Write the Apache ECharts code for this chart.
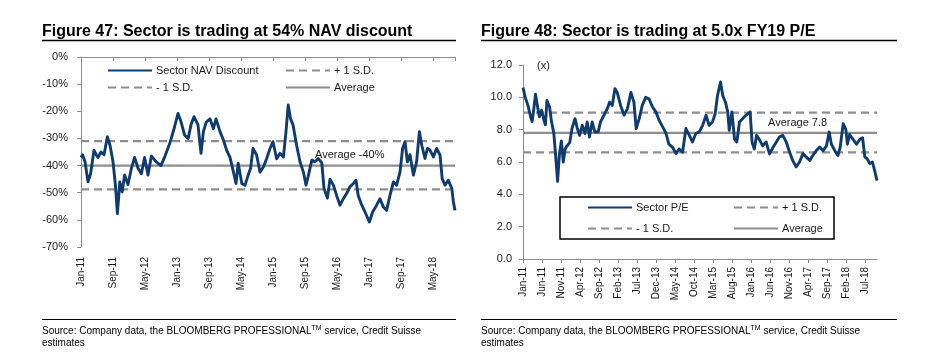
<!DOCTYPE html>
<html><head><meta charset="utf-8">
<script src="https://cdn.jsdelivr.net/npm/echarts@6/dist/echarts.min.js"></script>
<style>html,body{margin:0;padding:0;background:#fff}#c{width:936px;height:354px}</style>
</head><body><div id="c"></div>
<script>
const MONTHS = ['Jan','Feb','Mar','Apr','May','Jun','Jul','Aug','Sep','Oct','Nov','Dec'];

// Figure 47 — time in months since Jan-2011, value in %
const navMonths = [0,0.4,1,1.75,2.4,3.25,3.8,4.25,5,5.75,6.6,7.25,8,8.6,9.1,9.7,10.3,10.9,11.75,12.6,13.4,14.25,15.1,15.9,16.75,17.6,18.8,20,21,22.2,23.4,24.25,25,25.9,26.8,27.5,28.25,29.25,30,30.6,31.3,32.25,33.1,33.75,34.75,35.6,36.4,37.25,38,38.75,39.3,40.2,41,41.8,42.4,43,43.9,44.75,45.6,46.4,47.25,48,48.9,49.75,50.6,51.25,51.8,52.4,53,53.9,54.75,55.6,56.25,56.8,57.7,58.5,59.3,60.2,60.75,61.6,62.25,63.1,63.9,64.75,65.6,66.4,67.25,68.1,68.75,69.3,70.2,71,72.1,72.9,73.9,74.75,75.6,76.4,77.25,78.1,78.9,79.75,80.4,81,81.6,82.25,83.1,83.9,84.6,85.2,86,86.6,87.25,88.1,88.9,89.75,90.3,91,91.8,92.7,93.1,93.5];
const navValues = [-37,-36,-38.6,-46,-43,-34.3,-36,-37,-35,-36,-29.4,-32.5,-38.6,-47,-57.7,-46,-49.7,-43.5,-47,-41,-37,-41,-43,-37,-43.5,-36.5,-38.6,-40,-36.5,-31.8,-25.7,-20.8,-23.8,-28.8,-30,-25,-22,-25,-35.5,-27.5,-24,-22.8,-26.4,-22.8,-27.5,-30.6,-34.3,-37,-41.7,-46.6,-39.1,-46.6,-47.2,-43.5,-41,-33.7,-36.1,-42.4,-40.5,-37.5,-33.7,-31.2,-37.5,-35.5,-36.8,-27.5,-17.7,-22.8,-25,-32.5,-38.6,-42.4,-47.2,-44,-38,-38.6,-37.4,-39,-48.4,-52,-45,-47.2,-51,-54.6,-52.2,-50.3,-47.8,-46.6,-45.4,-51,-54.6,-57.1,-60.8,-57.1,-54.6,-52.2,-55.3,-56.5,-51,-46,-47.2,-42.4,-33.7,-31.2,-38.6,-36,-43.5,-38.6,-27.5,-32.5,-37.4,-33.7,-34.3,-36.8,-33.7,-36.1,-44.8,-47.2,-45.4,-48.4,-53.4,-56.5];
const navPlusSD = -31;
const navAverage = -40;
const navMinusSD = -48.8;
const navYMin = -70, navYMax = 0, navYStep = 10;
const navXStep = 8;

// Figure 48 — time in months since Jan-2011, P/E (x)
const peMonths = [0,0.6,1.3,2,2.4,2.8,3.3,3.7,4.3,4.9,5.5,5.9,6.3,7,7.5,8.1,8.6,9.1,9.6,10.1,10.6,11.1,11.6,12.3,12.9,13.7,14.3,14.9,15.6,16.3,16.9,17.5,18.2,18.9,19.8,20.4,21.3,22.2,22.8,23.5,24.2,24.8,25.7,26.6,27.5,28.4,29.2,29.8,30.6,31.4,32.3,33.2,34.1,35,35.8,36.7,37.6,38.4,39.4,40.3,41.1,42,42.9,43.8,44.6,45.5,46.4,47.3,48.2,49,49.9,50.6,51.2,52,52.6,53.3,53.9,54.3,55,55.7,56.3,57,57.8,58.7,59.8,60.3,60.9,61.5,62.2,63.1,64,64.9,65.8,66.7,67.5,68.4,69.3,70.2,71,71.9,72.8,73.7,74.6,75.5,76.3,77.2,78.1,79,79.9,80.6,81.2,82.1,82.9,83.5,84.3,85,85.4,86,86.9,87.8,88.7,89.4,90,90.6,91.3,92,92.6,93.2];
const peValues = [10.6,10.0,9.5,8.8,8.5,9.2,10.2,9.6,8.8,9.2,8.6,8.3,9.8,9.4,8.5,7.8,6.4,4.8,6.5,7.3,6.0,6.8,7.0,7.2,8.07,8.68,8.07,7.65,8.27,7.76,8.48,7.55,8.48,7.86,7.86,8.48,8.89,9.3,9.7,9.5,10.54,10.3,9.5,8.9,9.3,10.3,9.7,8.07,8.68,9.5,10.0,9.9,9.4,9.1,8.6,8.2,7.8,7.1,6.9,6.52,6.8,6.6,8.07,7.65,7.24,7.76,7.86,8.27,8.89,8.27,8.48,9.0,10.1,10.95,10.1,9.7,9.1,7.96,9.1,7.4,7.24,8.48,8.68,8.89,9.1,7.24,6.8,7.65,7.4,7.0,7.24,6.5,6.9,7.24,7.55,7.65,7.24,6.6,6.1,5.7,6.0,6.52,6.3,6.1,6.4,6.7,6.93,6.7,7.0,7.86,7.1,6.7,6.4,6.9,8.37,8.0,7.1,7.7,7.4,7.1,7.4,7.5,6.3,6.2,5.9,6.0,5.45,4.85];
const pePlusSD = 9.05;
const peAverage = 7.8;
const peMinusSD = 6.6;
const peYMin = 0, peYMax = 12, peYStep = 2;
const peXStep = 5;

const NAVY = '#0F3B6E', GRAY = '#8E8E8E', AXIS = '#8C8C8C', TXT = '#1a1a1a';
const FONT = 'Liberation Sans, Arial, sans-serif';

function monthLabel(v) {
  const i = Math.round(v);
  return MONTHS[((i % 12) + 12) % 12] + '-' + String(11 + Math.floor(i / 12));
}
function zip(xs, ys) { return xs.map((x, i) => [x, ys[i]]); }
function flat(xs, v) { return [[xs[0], v], [xs[xs.length - 1], v]]; }

const navEnd = navMonths[navMonths.length - 1];
const peEnd = peMonths[peMonths.length - 1];

function refSeries(name, xi, yi, data, dashed) {
  return {
    name, type: 'line', xAxisIndex: xi, yAxisIndex: yi, data,
    symbol: 'none', silent: true, z: 2,
    lineStyle: { color: GRAY, width: 2.2, type: dashed ? [8, 5] : 'solid' },
    itemStyle: { color: GRAY }
  };
}
function mainSeries(name, xi, yi, data) {
  return {
    name, type: 'line', xAxisIndex: xi, yAxisIndex: yi, data,
    symbol: 'none', silent: true, z: 4,
    lineStyle: { color: NAVY, width: 2.9, join: 'round' },
    itemStyle: { color: NAVY }
  };
}
function legendItem(name, left, top) {
  return {
    data: [name], left, top, orient: 'horizontal', padding: 0,
    itemWidth: 44, itemHeight: 10, itemGap: 0, selectedMode: false,
    itemStyle: { opacity: 0 },
    textStyle: { fontSize: 11, color: TXT, fontFamily: FONT, padding: [0, 0, 0, -1] }
  };
}

const option = {
  animation: false,
  textStyle: { fontFamily: FONT },
  grid: [
    { left: 81, right: 481, top: 57, bottom: 107 },
    { left: 523, right: 59, top: 65, bottom: 95 }
  ],
  xAxis: [
    { gridIndex: 0, type: 'value', position: 'bottom', min: 0, max: navEnd, interval: navXStep,
      axisLine: { show: false }, axisTick: { show: false }, splitLine: { show: false },
      axisLabel: { rotate: 90, margin: 10, fontSize: 10, color: TXT, fontFamily: FONT,
        showMaxLabel: false, formatter: monthLabel } },
    { gridIndex: 0, type: 'value', position: 'top', min: 0, max: navEnd, interval: navXStep,
      axisLine: { show: true, onZero: false, lineStyle: { color: AXIS, width: 1 } },
      axisTick: { show: true, inside: true, length: 4, lineStyle: { color: AXIS } },
      axisLabel: { show: false }, splitLine: { show: false } },
    { gridIndex: 1, type: 'value', position: 'bottom', min: 0, max: peEnd, interval: peXStep,
      axisLine: { show: true, onZero: false, lineStyle: { color: AXIS, width: 1 } },
      axisTick: { show: true, length: 4, lineStyle: { color: AXIS } }, splitLine: { show: false },
      axisLabel: { rotate: 90, margin: 8, fontSize: 10, color: TXT, fontFamily: FONT,
        showMaxLabel: false, formatter: monthLabel } }
  ],
  yAxis: [
    { gridIndex: 0, type: 'value', min: navYMin, max: navYMax, interval: navYStep,
      axisLine: { show: true, lineStyle: { color: AXIS, width: 1 } },
      axisTick: { show: true, length: 4, lineStyle: { color: AXIS } }, splitLine: { show: false },
      axisLabel: { margin: 13, fontSize: 11, color: TXT, fontFamily: FONT, formatter: v => v + '%' } },
    { gridIndex: 1, type: 'value', min: peYMin, max: peYMax, interval: peYStep,
      axisLine: { show: true, lineStyle: { color: AXIS, width: 1 } },
      axisTick: { show: true, length: 4, lineStyle: { color: AXIS } }, splitLine: { show: false },
      axisLabel: { margin: 11, fontSize: 11, color: TXT, fontFamily: FONT, formatter: v => v.toFixed(1) } }
  ],
  legend: [
    legendItem('Sector NAV Discount', 107, 65),
    legendItem('+ 1 S.D.', 285, 65),
    legendItem('- 1 S.D.', 107, 82),
    legendItem('Average', 285, 82),
    legendItem('Sector P/E', 587, 202),
    legendItem('+ 1 S.D.', 733, 202),
    legendItem('- 1 S.D.', 587, 223),
    legendItem('Average', 733, 223)
  ],
  series: [
    refSeries('+ 1 S.D.', 0, 0, flat(navMonths, navPlusSD), true),
    refSeries('- 1 S.D.', 0, 0, flat(navMonths, navMinusSD), true),
    refSeries('Average', 0, 0, flat(navMonths, navAverage), false),
    mainSeries('Sector NAV Discount', 0, 0, zip(navMonths, navValues)),
    refSeries('+ 1 S.D.', 2, 1, flat(peMonths, pePlusSD), true),
    refSeries('- 1 S.D.', 2, 1, flat(peMonths, peMinusSD), true),
    refSeries('Average', 2, 1, flat(peMonths, peAverage), false),
    mainSeries('Sector P/E', 2, 1, zip(peMonths, peValues))
  ],
  graphic: [
    { type: 'text', x: 42, y: 31.5, z: 10, style: { text: 'Figure 47: Sector is trading at 54% NAV discount',
      font: 'bold 16px ' + FONT, fill: '#000', verticalAlign: 'middle' } },
    { type: 'text', x: 481, y: 31.5, z: 10, style: { text: 'Figure 48: Sector is trading at 5.0x FY19 P/E',
      font: 'bold 16px ' + FONT, fill: '#000', verticalAlign: 'middle' } },
    { type: 'line', z: 10, shape: { x1: 42, y1: 40.5, x2: 456, y2: 40.5 }, style: { stroke: '#000', lineWidth: 1.3 } },
    { type: 'line', z: 10, shape: { x1: 481, y1: 40.5, x2: 897, y2: 40.5 }, style: { stroke: '#000', lineWidth: 1.3 } },
    { type: 'line', z: 10, shape: { x1: 42, y1: 319.5, x2: 456, y2: 319.5 }, style: { stroke: '#000', lineWidth: 1 } },
    { type: 'line', z: 10, shape: { x1: 481, y1: 319.5, x2: 897, y2: 319.5 }, style: { stroke: '#000', lineWidth: 1 } },
    { type: 'text', x: 42, y: 325, z: 10, style: {
      text: '{a|Source: Company data, the BLOOMBERG PROFESSIONAL}{s|TM}{a| service, Credit Suisse}\n{a|estimates}',
      rich: { a: { fontSize: 10, fontFamily: FONT, fill: '#000', lineHeight: 12 },
              s: { fontSize: 7, fontFamily: FONT, fill: '#000', lineHeight: 12, verticalAlign: 'top' } } } },
    { type: 'text', x: 481, y: 325, z: 10, style: {
      text: '{a|Source: Company data, the BLOOMBERG PROFESSIONAL}{s|TM}{a| service, Credit Suisse}\n{a|estimates}',
      rich: { a: { fontSize: 10, fontFamily: FONT, fill: '#000', lineHeight: 12 },
              s: { fontSize: 7, fontFamily: FONT, fill: '#000', lineHeight: 12, verticalAlign: 'top' } } } },
    { type: 'text', x: 315, y: 155, z: 1, style: { text: 'Average -40%', font: '11px ' + FONT, fill: TXT, verticalAlign: 'middle' } },
    { type: 'text', x: 768, y: 123, z: 1, style: { text: 'Average 7.8', font: '11px ' + FONT, fill: TXT, verticalAlign: 'middle' } },
    { type: 'text', x: 537, y: 66, z: 10, style: { text: '(x)', font: '11px ' + FONT, fill: TXT, verticalAlign: 'middle' } },
    { type: 'rect', z: 0, shape: { x: 560, y: 197, width: 274, height: 42 },
      style: { fill: '#fff', stroke: '#000', lineWidth: 1.5 } }
  ]
};

const chart = echarts.init(document.getElementById('c'), null, { renderer: 'canvas' });
chart.setOption(option);
</script>
</body></html>
